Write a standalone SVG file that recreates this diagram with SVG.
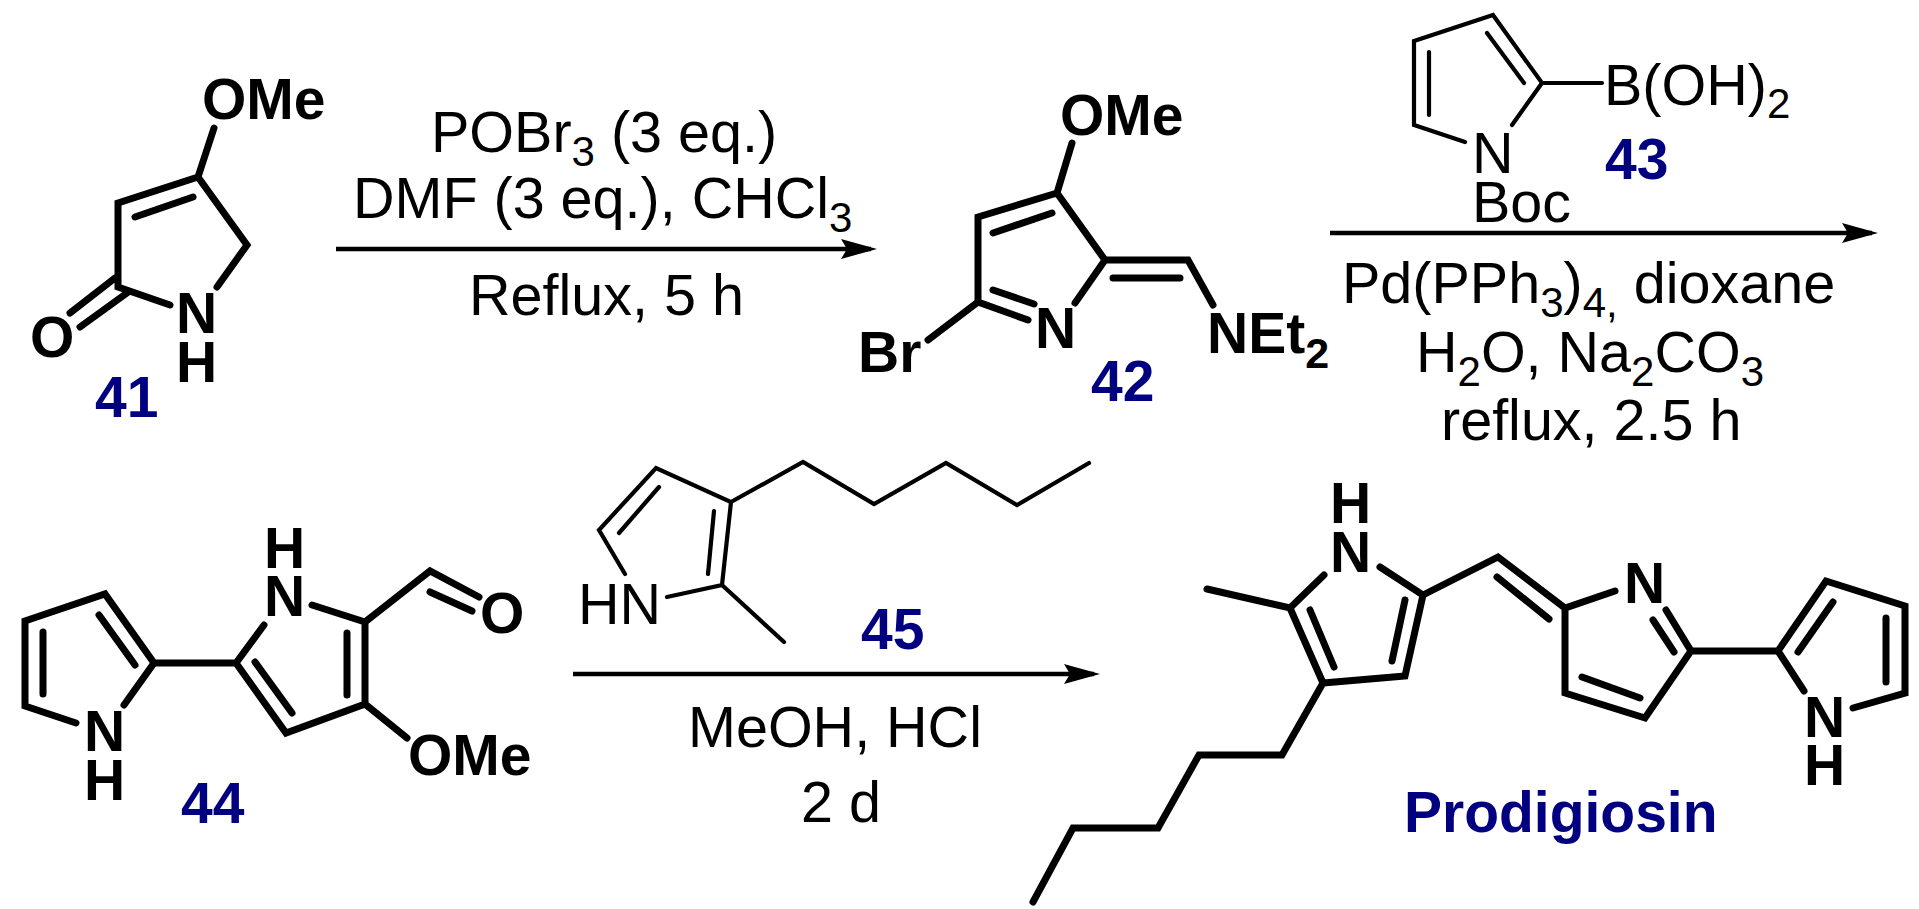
<svg xmlns="http://www.w3.org/2000/svg" width="1919" height="909" viewBox="0 0 1919 909">
<style>
text{font-family:"Liberation Sans",Arial,sans-serif;font-size:57.5px;fill:#000}
.a{font-weight:700;font-size:57px}
.n{font-weight:700;font-size:57px;fill:#000080}
.s{font-size:42px}
.sa{font-size:43px}
.b{fill:none;stroke:#000;stroke-width:7;stroke-linecap:round;stroke-linejoin:miter}
.t{fill:none;stroke:#000;stroke-width:4.2;stroke-linecap:round;stroke-linejoin:miter}
.w{fill:none;stroke:#000;stroke-width:4.5}
</style>
<defs>
<marker id="h" markerUnits="userSpaceOnUse" markerWidth="40" markerHeight="24" refX="30" refY="12" orient="auto" viewBox="0 0 40 24"><path d="M0 2L36 12L0 22L6 12Z" fill="#000"/></marker>
</defs>
<rect width="1919" height="909" fill="#fff"/>

<g id="compound-41">
<path class="b" d="M214 128L198 177L118 203V287L170 305M217 287L247 245L198 177M135 217L193 197M70 313L115 278M80 327L127 293"/>
<text class="a" x="202" y="119">OMe</text>
<text class="a" x="30" y="357">O</text>
<text class="a" x="176" y="333">N</text>
<text class="a" x="176" y="382">H</text>
<text class="n" x="95" y="417">41</text>
</g>

<g id="compound-42">
<path class="b" d="M1072 143L1057 193L978 217V302L1028 320M993 290L1034 304M993 233L1052 213M1057 193L1105 260L1075 303M1105 260H1188L1213 305M1113 278H1180M978 302L928 340"/>
<text class="a" x="1060" y="135">OMe</text>
<text class="a" x="1035" y="348">N</text>
<text class="a" x="858" y="372">Br</text>
<text class="a" x="1207" y="353">NEt<tspan dy="15" class="sa">2</tspan></text>
<text class="n" x="1091" y="401">42</text>
</g>

<g id="compound-43">
<path class="t" d="M1602 83H1542L1493 15L1414 41V125L1465 142M1542 83L1512 125M1429 52V115M1487 33L1524 83"/>
<text x="1604" y="105">B(OH)<tspan dy="13" class="s">2</tspan></text>
<text x="1472" y="173">N</text>
<text x="1472" y="222">Boc</text>
<text class="n" x="1605" y="179">43</text>
</g>

<g id="compound-44">
<path class="b" d="M76 723L25 706V621L105 594L154 663L124 705M43 632V694M99 615L135 665M154 663H236L264 625M236 663L286 733L365 704V622L312 605M255 662L292 713M347 633V695M365 622L430 571L479 597M430 592L472 611M365 704L407 738"/>
<text class="a" x="264" y="568">H</text>
<text class="a" x="264" y="616">N</text>
<text class="a" x="480" y="633">O</text>
<text class="a" x="408" y="775">OMe</text>
<text class="a" x="84" y="751">N</text>
<text class="a" x="84" y="800">H</text>
<text class="n" x="181" y="823">44</text>
</g>

<g id="compound-45">
<path class="t" d="M625 574L599 530L656 468L731 502L722 585L667 597M659 487L619 533M714 511L708 574M722 585L784 642M731 502L803 462L874 504L946 463L1017 505L1089 463"/>
<text x="578" y="624">HN</text>
<text class="n" x="861" y="649">45</text>
</g>

<g id="prodigiosin">
<path class="b" d="M1207 589L1290 608L1324 575M1290 608L1323 683L1405 676L1423 595L1380 567M1310 610L1334 667M1405 600L1392 661M1423 595L1498 557L1565 608L1615 591M1497 577L1549 619M1565 608V693L1645 718L1691 651L1666 610M1582 677L1640 698M1653 620L1674 652M1691 651H1778L1826 581L1905 606V693L1853 708M1778 651L1804 691M1798 652L1833 602M1886 618V682M1323 683L1282 755H1199L1158 828H1073L1033 902"/>
<text class="a" x="1330" y="523">H</text>
<text class="a" x="1330" y="572">N</text>
<text class="a" x="1624" y="603">N</text>
<text class="a" x="1804" y="737">N</text>
<text class="a" x="1804" y="785">H</text>
<text class="n" x="1404" y="832">Prodigiosin</text>
</g>

<g id="connectors">
<path class="w" d="M336 249H871" marker-end="url(#h)"/>
<path class="w" d="M1330 233H1872" marker-end="url(#h)"/>
<path class="w" d="M573 674H1094" marker-end="url(#h)"/>
</g>

<g id="conditions">
<text x="431" y="152">POBr<tspan dy="14" class="s">3</tspan><tspan dy="-14"> (3 eq.)</tspan></text>
<text x="353" y="218">DMF (3 eq.), CHCl<tspan dy="14" class="s">3</tspan></text>
<text x="469" y="315">Reflux, 5 h</text>
<text x="1342" y="303">Pd(PPh<tspan dy="14" class="s">3</tspan><tspan dy="-14">)</tspan><tspan dy="14" class="s">4,</tspan><tspan dy="-14"> dioxane</tspan></text>
<text x="1416" y="372">H<tspan dy="14" class="s">2</tspan><tspan dy="-14">O, Na</tspan><tspan dy="14" class="s">2</tspan><tspan dy="-14">CO</tspan><tspan dy="14" class="s">3</tspan></text>
<text x="1441" y="440">reflux, 2.5 h</text>
<text x="688" y="747">MeOH, HCl</text>
<text x="801" y="822">2 d</text>
</g>
</svg>
